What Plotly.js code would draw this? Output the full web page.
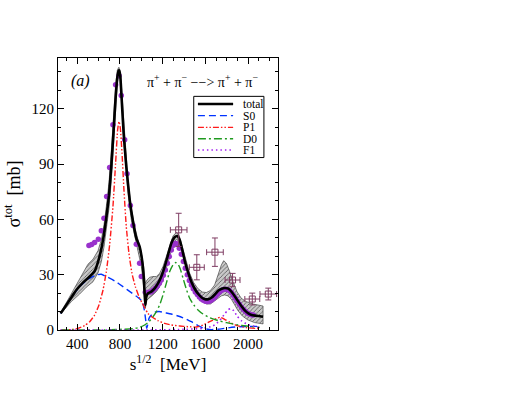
<!DOCTYPE html>
<html>
<head>
<meta charset="utf-8">
<script src="https://cdn.plot.ly/plotly-3.0.1.min.js"></script>
<style>html,body{margin:0;padding:0;background:#fff;}#chart{width:517px;height:400px;}</style>
</head>
<body>
<div id="chart"></div>
<script>
// ---- data (s^1/2 in MeV, sigma in mb) ----
const totalX = [244,297,344,391,453,516,563,594,625,650,672,697,720,740,758,775,787,794,803,816,834,859,891,922,953,984,1009,1022,1031,1037,1047,1062,1094,1125,1156,1187,1219,1250,1281,1312,1337,1359,1384,1409,1441,1472,1503,1534,1566,1597,1628,1659,1691,1722,1753,1784,1816,1847,1878,1909,1941,1972,2003,2034,2066,2097,2141];
const totalY = [9.0,13.6,17.6,21.7,25.7,29.0,32.0,37.0,44.0,52.0,61.0,73.0,90.0,108.0,125.0,137.0,140.5,140.8,137.6,124.9,106.8,88.7,70.6,58.8,49.8,45.2,37.1,29.0,19.9,13.6,18.1,19.9,20.8,22.6,25.3,29.0,34.4,40.7,47.1,50.3,51.0,48.9,43.4,37.1,30.8,25.7,22.1,19.5,17.6,16.7,16.7,17.6,19.4,21.4,22.4,22.8,22.4,20.6,18.1,15.4,12.7,10.5,9.0,8.1,7.8,7.6,7.2];

const bandUpX = [244,344,422,469,500,547,594,625,650,672,697,720,740,758,775,790,806,822,844,875,906,937,969,1000,1022,1037,1053,1078,1109,1141,1172,1203,1234,1266,1297,1328,1353,1384,1416,1453,1491,1531,1572,1609,1647,1687,1719,1750,1772,1797,1828,1859,1897,1937,1984,2047,2141];
const bandUpY = [9.4,19.9,28.1,32.9,35.7,38.4,43.0,49.0,57.0,67.0,80.0,98.0,116.0,132.0,141.0,142.5,138.5,124.9,103.2,80.5,66.1,56.1,48.9,41.6,34.4,25.3,27.1,28.6,29.0,29.0,30.8,34.4,39.8,46.2,51.0,52.9,51.6,45.2,38.0,30.8,25.7,22.4,20.6,20.3,21.4,24.4,29.9,35.3,37.6,36.2,31.7,26.2,20.8,17.2,15.4,14.1,13.0];
const bandLoX = [244,344,422,484,547,594,625,650,672,697,720,740,758,775,790,806,822,844,875,906,937,969,1000,1022,1037,1053,1078,1109,1141,1172,1203,1234,1266,1297,1328,1353,1384,1416,1453,1491,1531,1572,1609,1647,1687,1719,1750,1781,1812,1844,1875,1906,1947,2000,2062,2141];
const bandLoY = [8.7,15.4,19.5,23.2,26.2,31.0,37.0,45.0,54.0,66.0,82.0,100.0,118.0,134.0,139.0,135.7,121.3,95.9,74.2,59.7,49.8,42.5,34.4,23.5,11.8,16.3,17.7,19.0,20.8,23.5,27.1,32.6,39.8,46.2,49.2,48.0,41.6,34.4,27.1,21.7,18.1,15.4,14.1,14.1,15.4,17.2,18.5,19.0,18.5,16.7,13.6,10.5,7.6,5.4,4.0,3.3];

const s0X = [244,344,422,500,578,625,672,750,828,906,969,1009,1028,1041,1050,1059,1072,1094,1125,1166,1219,1281,1344,1406,1469,1531,1594,1656,1734,1828,1922,2109];
const s0Y = [9.0,17.7,23.5,27.5,29.9,30.2,29.0,26.6,23.5,20.3,17.6,15.4,10.9,5.4,0.9,2.7,6.3,8.1,9.6,10.0,9.4,8.7,7.6,6.3,4.5,2.4,0.7,0.2,0.5,1.3,1.8,2.0];

const p1X = [244,344,406,469,516,562,603,641,672,703,734,759,778,791,803,819,837,859,884,912,944,978,1009,1034,1062,1103,1156,1219,1281,1359,1437,1516,1578,1641,1703,1741,1781,1828,1891,1984,2109];
const p1Y = [0,0.2,0.9,2.4,4.5,8.1,13.6,21.7,31.7,46.2,67.0,90.5,108.6,113.1,109.5,95.9,76.0,56.1,41.6,30.8,23.5,18.1,14.5,11.8,9.0,6.9,5.1,3.6,2.7,2.2,1.8,1.6,2.7,4.5,6.2,6.9,5.8,4.2,2.5,1.3,0.7];

const d0X = [244,609,828,922,984,1031,1072,1109,1141,1172,1203,1234,1266,1297,1322,1344,1366,1391,1422,1453,1491,1531,1578,1641,1719,1797,1891,1984,2109];
const d0Y = [0,0,0.4,0.7,1.4,2.7,4.5,7.2,10.0,13.6,19.0,25.3,31.7,35.3,36.6,35.8,32.9,28.1,22.1,17.2,13.6,10.9,8.7,6.7,5.1,4.0,2.9,2.2,1.4];

const f1X = [244,1078,1422,1578,1672,1734,1781,1812,1837,1866,1897,1937,2000,2109];
const f1Y = [0,0,0.4,0.9,2.2,5.1,8.7,10.9,11.6,10.5,7.6,5.1,2.9,1.4];

const dotsX = [509,534,562,597,625,650,675,703,734,759,791,812,844,866,897,922,953,984,1000,1037,1056,1075,1094,1112,1131,1150,1169,1187,1206,1225,1244,1262,1281,1300,1319,1337,1356,1375,1394,1412,1431,1450,1469,1487,1506,1525,1544,1562,1581,1600,1619,1637,1656,1675,1694,1712,1731,1750,1769,1787,1806,1825,1844,1862,1881,1900,1919,1937,1956,1975,1994,2012,2031,2050];
const dotsY = [45.8,46.3,47.4,49.2,53.8,60.6,72.4,88.1,111.3,133.0,137.9,127.1,103.2,84.7,67.5,56.7,46.5,36.2,29.0,20.5,20.3,20.5,20.8,21.7,22.6,23.9,25.3,27.1,29.7,32.6,36.2,39.8,43.4,46.0,47.1,46.7,44.3,41.1,37.1,33.5,29.9,26.8,24.4,22.4,20.6,19.2,17.9,16.8,16.1,15.6,15.4,15.6,16.1,17.0,18.1,19.4,20.5,21.4,21.9,22.1,21.9,21.4,20.3,18.8,17.2,15.6,13.9,12.5,11.2,10.1,9.2,8.7,8.3,8.1];

const expX = [1350,1520,1690,1855,2040,2190];
const expY = [54.3,34.0,42.2,27.1,16.8,19.5];
const expXerr = [78,70,78,70,70,78];
const expYerr = [9.0,6.8,7.7,3.6,3.2,3.2];

const legendNames = ["total","S0","P1","D0","F1"];
const xTickVals = [400,800,1200,1600,2000];
const yTickVals = [0,30,60,90,120];

// ---- styles ----
const FONT = "Liberation Serif, Times New Roman, serif";
const cTotal = "#000000", cS0 = "#0033ff", cP1 = "#ff1a1a", cD0 = "#1f9a1f", cF1 = "#a020f0";
const cDots = "#9932cc", cExp = "#7f3d63";
const dS0 = "7px,4px", dP1 = "6px,2px,1.5px,2px,1.5px,2px", dD0 = "8px,3px,2px,3px", dF1 = "1.5px,3px";

const bandX = bandUpX.concat(bandLoX.slice().reverse());
const bandY = bandUpY.concat(bandLoY.slice().reverse());

const traces = [
  {x: bandX, y: bandY, mode: "lines", fill: "toself", fillcolor: "#c4c4c4",
   fillpattern: {shape: "/", fgcolor: "#505050", bgcolor: "#c8c8c8", size: 3, solidity: 0.25},
   line: {color: "#303030", width: 0.6}, hoverinfo: "skip", showlegend: false},
  {x: s0X, y: s0Y, mode: "lines", line: {color: cS0, width: 1.4, dash: dS0, shape: "spline", smoothing: 0.5}, showlegend: false},
  {x: p1X, y: p1Y, mode: "lines", line: {color: cP1, width: 1.4, dash: dP1, shape: "spline", smoothing: 0.5}, showlegend: false},
  {x: d0X, y: d0Y, mode: "lines", line: {color: cD0, width: 1.4, dash: dD0, shape: "spline", smoothing: 0.5}, showlegend: false},
  {x: f1X, y: f1Y, mode: "lines", line: {color: cF1, width: 1.6, dash: dF1, shape: "spline", smoothing: 0.5}, showlegend: false},
  {x: dotsX, y: dotsY, mode: "markers", marker: {color: cDots, size: 5.5}, showlegend: false},
  {x: totalX, y: totalY, mode: "lines", line: {color: cTotal, width: 2.6, shape: "spline", smoothing: 0.4}, showlegend: false},
  {x: expX, y: expY, mode: "markers",
   marker: {symbol: "square-open", size: 6, color: cExp, line: {width: 1, color: cExp}},
   error_x: {type: "data", array: expXerr, visible: true, color: cExp, thickness: 1, width: 3},
   error_y: {type: "data", array: expYerr, visible: true, color: cExp, thickness: 1, width: 3},
   showlegend: false}
];

// manual legend (compact, like the original)
const legColors = [cTotal, cS0, cP1, cD0, cF1];
const legDash = ["solid", dS0, dP1, dD0, dF1];
const legWidth = [2.4, 1.4, 1.4, 1.4, 1.6];
const rowsY = [0.831, 0.788, 0.745, 0.703, 0.662];
const shapes = [{type: "rect", xref: "paper", yref: "paper", x0: 0.617, x1: 0.936, y0: 0.634, y1: 0.859,
  line: {color: "#000", width: 1}, fillcolor: "#ffffff", layer: "above"}];
const annotations = [];
legendNames.forEach((n, i) => {
  shapes.push({type: "line", xref: "paper", yref: "paper", x0: 0.636, x1: 0.796, y0: rowsY[i], y1: rowsY[i],
    line: {color: legColors[i], width: legWidth[i], dash: legDash[i]}, layer: "above"});
  annotations.push({xref: "paper", yref: "paper", x: 0.83, y: rowsY[i], text: n, showarrow: false,
    xanchor: "left", yanchor: "middle", font: {family: FONT, size: 11.5, color: "#000"}});
});
annotations.push({xref: "paper", yref: "paper", x: 0.103, y: 0.916, text: "<i>(a)</i>", showarrow: false,
  xanchor: "center", yanchor: "middle", font: {family: FONT, size: 16, color: "#000"}});
annotations.push({xref: "paper", yref: "paper", x: 0.656, y: 0.916,
  text: "π<sup>+</sup> + π<sup>−</sup> −−> π<sup>+</sup> + π<sup>−</sup>", showarrow: false,
  xanchor: "center", yanchor: "middle", font: {family: FONT, size: 14, color: "#000"}});

const layout = {
  width: 517, height: 400,
  margin: {l: 58, r: 239, t: 58, b: 70},
  paper_bgcolor: "#fff", plot_bgcolor: "#fff",
  font: {family: FONT, color: "#000"},
  showlegend: false,
  xaxis: {range: [219, 2281], tickvals: xTickVals, ticks: "inside", ticklen: 6, tickwidth: 1, tickcolor: "#000",
    minor: {dtick: 100, tick0: 0, ticks: "inside", ticklen: 3, tickcolor: "#000", showgrid: false},
    showline: true, linecolor: "#000", linewidth: 1, mirror: "ticks", showgrid: false, zeroline: false,
    tickfont: {family: FONT, size: 15}, title: {text: "s<sup>1/2</sup>  [MeV]", font: {family: FONT, size: 17}, standoff: 6}},
  yaxis: {range: [0, 147.5], tickvals: yTickVals, ticks: "inside", ticklen: 6, tickwidth: 1, tickcolor: "#000",
    minor: {dtick: 10, tick0: 0, ticks: "inside", ticklen: 3, tickcolor: "#000", showgrid: false},
    showline: true, linecolor: "#000", linewidth: 1, mirror: "ticks", showgrid: false, zeroline: false,
    tickfont: {family: FONT, size: 15}, title: {text: "σ<sup>tot</sup>  [mb]", font: {family: FONT, size: 18}, standoff: 6}},
  shapes: shapes, annotations: annotations
};

Plotly.newPlot("chart", traces, layout, {staticPlot: true, displayModeBar: false});
</script>
</body>
</html>
